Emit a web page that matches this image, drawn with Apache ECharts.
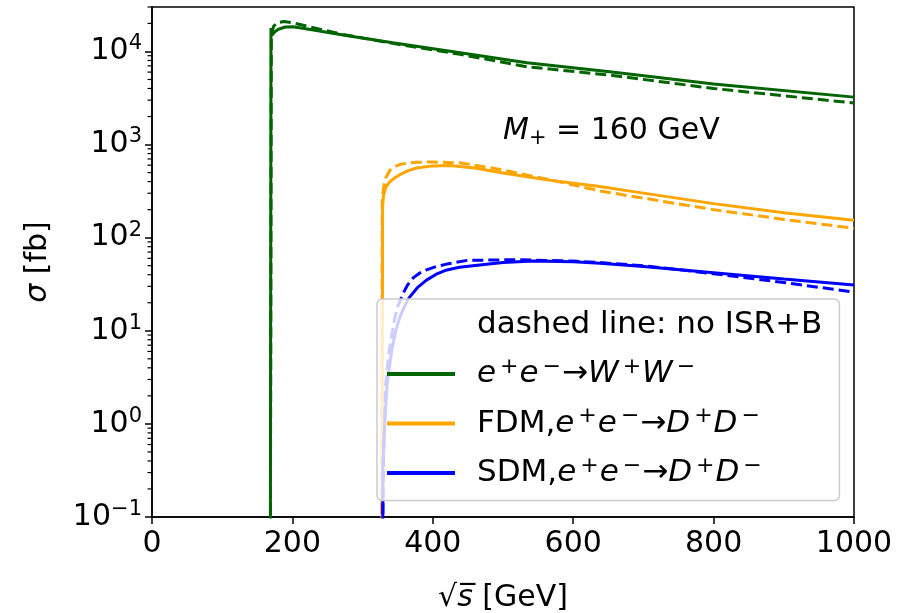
<!DOCTYPE html>
<html>
<head>
<meta charset="utf-8">
<script src="https://cdn.jsdelivr.net/npm/echarts@6/dist/echarts.min.js"></script>
<style>
  html, body { margin: 0; padding: 0; background: #fff; }
  #chart { width: 898px; height: 613px; }
</style>
</head>
<body>
<div id="chart"></div>
<script>
// sqrt(s) [GeV], sigma [fb]
const wwIsr = [[168.5, 0.01], [169.5, 17800], [171, 15000], [175, 16300], [180, 17300], [190, 18300], [201, 18400],
    [230, 17000], [272, 15000], [343, 12400], [439, 9660], [534, 7550], [652, 6040], [800, 4480], [1000, 3230]]
const wwNoIsr = [[168.5, 0.01], [170, 15000], [173, 18500], [178, 20300], [188, 21000], [200, 20300], [230, 18000],
    [272, 15200], [343, 12200], [439, 9300], [534, 6840], [652, 5570], [800, 4000], [1000, 2790]]
const fdmIsr = [[327.5, 0.01], [328.5, 220], [330, 290], [333, 350], [339, 400], [346, 440], [353, 475], [365, 525],
    [377, 560], [400, 590], [424, 595], [460, 560], [496, 500], [560, 420], [638, 355], [681, 316], [800, 232],
    [900, 185], [1000, 154]]
const fdmNoIsr = [[327, 0.01], [328, 270], [330, 350], [333, 440], [339, 530], [346, 580], [353, 610], [365, 635],
    [377, 645], [400, 650], [440, 635], [496, 540], [560, 430], [638, 318], [681, 280], [800, 200], [900, 157],
    [1000, 126]]
const sdmIsr = [[328.5, 0.01], [329, 0.35], [332, 1.2], [335, 2.7], [341.5, 6.2], [347, 9.8], [353, 14], [360, 18.5],
    [367, 23], [378, 29], [391, 35], [405, 40.5], [420, 45], [438, 48], [457, 50], [500, 54], [543, 56], [600, 55],
    [638, 53], [700, 49], [800, 42], [900, 36], [1000, 31]]
const sdmNoIsr = [[327, 0.01], [330, 0.5], [333, 2.7], [338, 6.2], [346, 14], [351, 19], [357.5, 25], [364, 31],
    [372, 37], [381, 41.5], [391, 45], [405, 49], [420, 52], [449, 57], [520, 58], [600, 56], [638, 54], [700, 50],
    [800, 41], [900, 33], [1000, 26]]

const majorTicks = [0.1, 1, 10, 100, 1000, 10000]
const minorTicks = []
for (let e = -1; e <= 4; e++) {
    for (let m = 2; m <= 9; m++) {
        const v = +(m * Math.pow(10, e)).toPrecision(3)
        if (v <= 30000) minorTicks.push(v)
    }
}
const xTicks = [0, 200, 400, 600, 800, 1000]

const FONT = 'DejaVu Sans'
const green = '#006400', orange = '#ffa500', blue = '#0000ff'
const dash = [11, 5]

function makeRich(size) {
    const sup = Math.round(size * 0.7)
    return {
        t: { fontFamily: FONT, fontSize: size, lineHeight: 36, verticalAlign: 'middle', color: '#000' },
        i: { fontFamily: FONT, fontSize: size, lineHeight: 36, verticalAlign: 'middle', fontStyle: 'italic', color: '#000' },
        sup: { fontFamily: FONT, fontSize: sup, lineHeight: sup, verticalAlign: 'top', color: '#000' },
        supg: { fontFamily: FONT, fontSize: sup, lineHeight: sup, verticalAlign: 'top', color: '#000', padding: [0, 1, 0, 4] },
        sub: { fontFamily: FONT, fontSize: sup, lineHeight: sup, verticalAlign: 'bottom', color: '#000' },
        sp: { width: 17 },
    }
}
const richText = makeRich(30)

const legendLabels = {
    note: '{sp| }{t|dashed line: no ISR+B}',
    WW: '{sp| }{i|e}{supg|+}{i|e}{supg|−}{t|→}{i|W}{supg|+}{i|W}{supg|−}',
    FDM: '{sp| }{t|FDM,}{i|e}{supg|+}{i|e}{supg|−}{t|→}{i|D}{supg|+}{i|D}{supg|−}',
    SDM: '{sp| }{t|SDM,}{i|e}{supg|+}{i|e}{supg|−}{t|→}{i|D}{supg|+}{i|D}{supg|−}',
}

function lineSeries(name, data, color, dashed) {
    return {
        name: name,
        type: 'line',
        data: data,
        showSymbol: false,
        symbol: 'none',
        color: color,
        lineStyle: { color: color, width: 3, type: dashed ? dash : 'solid' },
        clip: true,
        z: 2,
    }
}

// minor log ticks on the left axis, placed through the y scale
function minorTickSeries() {
    return {
        type: 'custom',
        name: 'minorTicks',
        clip: false,
        silent: true,
        z: 5,
        data: minorTicks.map((v) => [0, v]),
        renderItem: function (params, api) {
            const p = api.coord([api.value(0), api.value(1)])
            return {
                type: 'line',
                shape: { x1: p[0] - 4.5, y1: p[1], x2: p[0], y2: p[1] },
                style: { stroke: '#000', lineWidth: 1.2 },
            }
        },
    }
}

let myChart = echarts.init(document.getElementById('chart'))
let option = {
    animation: false,
    grid: {
        left: 152, right: 44, top: 7, bottom: 96,
        show: true, borderColor: '#000', borderWidth: 1.5, backgroundColor: 'transparent',
    },
    xAxis: {
        type: 'value', min: 0, max: 1000, interval: 200,
        axisLine: { lineStyle: { color: '#000', width: 1.5 } },
        axisTick: { length: 7, lineStyle: { color: '#000', width: 1.5 } },
        axisLabel: {
            margin: 12, color: '#000', fontFamily: FONT, fontSize: 30,
            customValues: xTicks,
            formatter: function (v) { return String(v) },
        },
        splitLine: { show: false },
    },
    yAxis: {
        type: 'log', logBase: 10, min: 0.1, max: 30000, position: 'left',
        axisLine: { lineStyle: { color: '#000', width: 1.5 } },
        axisTick: { length: 7, lineStyle: { color: '#000', width: 1.5 }, customValues: majorTicks },
        axisLabel: {
            margin: 10, customValues: majorTicks,
            formatter: function (v) {
                const e = Math.round(Math.log10(v))
                return '{t|10}{sup|' + String(e).replace('-', '−') + '}'
            },
            rich: richText,
        },
        splitLine: { show: false },
    },
    legend: {
        orient: 'vertical', left: 377, top: 299,
        padding: [10, 17, 12, 10],
        itemWidth: 68, itemHeight: 4, itemGap: 16,
        icon: 'rect', selectedMode: false,
        backgroundColor: 'rgba(255,255,255,0.8)',
        borderColor: '#cccccc', borderWidth: 1.5, borderRadius: 5,
        data: [{ name: 'note', icon: 'none' }, 'WW', 'FDM', 'SDM'],
        formatter: function (name) { return legendLabels[name] },
        textStyle: { fontFamily: FONT, fontSize: 31, color: '#000', rich: makeRich(31) },
    },
    graphic: [
        {
            type: 'text', x: 38, y: 262, rotation: Math.PI / 2,
            style: { text: '{i|σ}{t| [fb]}', rich: richText, align: 'center', verticalAlign: 'middle' },
        },
        {
            type: 'text', x: 503, y: 598,
            style: { text: '{t|√}{i|s\u0305}{t| [GeV]}', rich: richText, align: 'center', verticalAlign: 'middle' },
        },
        {
            type: 'text', x: 503, y: 131,
            style: { text: '{i|M}{sub|+}{t| = 160 GeV}', rich: richText, align: 'left', verticalAlign: 'middle' },
        },
    ],
    series: [
        lineSeries('WW', wwIsr, green, false),
        lineSeries('WW_dash', wwNoIsr, green, true),
        lineSeries('FDM', fdmIsr, orange, false),
        lineSeries('FDM_dash', fdmNoIsr, orange, true),
        lineSeries('SDM', sdmIsr, blue, false),
        lineSeries('SDM_dash', sdmNoIsr, blue, true),
        { name: 'note', type: 'line', data: [], color: '#fff' },
        minorTickSeries(),
    ],
}
myChart.setOption(option)
</script>
</body>
</html>
